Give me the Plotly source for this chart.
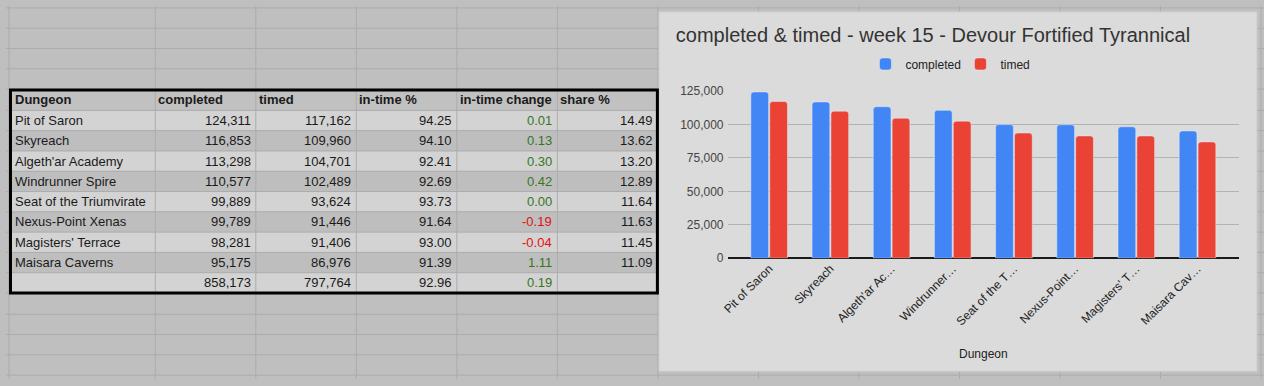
import plotly.graph_objects as go

# ---------------- data ----------------
headers = ["Dungeon", "completed", "timed", "in-time %", "in-time change", "share %"]
dungeons = ["Pit of Saron", "Skyreach", "Algeth'ar Academy", "Windrunner Spire",
            "Seat of the Triumvirate", "Nexus-Point Xenas", "Magisters' Terrace", "Maisara Caverns"]
chart_labels = ["Pit of Saron", "Skyreach", "Algeth'ar Ac…", "Windrunner…",
                "Seat of the T…", "Nexus-Point…", "Magisters' T…", "Maisara Cav…"]
completed = [124311, 116853, 113298, 110577, 99889, 99789, 98281, 95175]
timed = [117162, 109960, 104701, 102489, 93624, 91446, 91406, 86976]
in_time_pct = [94.25, 94.10, 92.41, 92.69, 93.73, 91.64, 93.00, 91.39]
in_time_change = [0.01, 0.13, 0.30, 0.42, 0.00, -0.19, -0.04, 1.11]
share_pct = [14.49, 13.62, 13.20, 12.89, 11.64, 11.63, 11.45, 11.09]
total_completed = 858173
total_timed = 797764
total_in_time_pct = 92.96
total_in_time_change = 0.19
y_ticks = [0, 25000, 50000, 75000, 100000, 125000]
chart_title = "completed & timed - week 15 - Devour Fortified Tyrannical"
x_title = "Dungeon"

# ---------------- layout helpers ----------------
W, H = 1264, 386
FONT = "Liberation Sans, Arial, sans-serif"


def px(x):
    return x / W


def py(y):
    return 1 - y / H


SHEET_BG = "#bfbfbf"
SHEET_GRID = "#acacac"
LIGHT_ROW = "#d3d3d3"
DARK_ROW = "#bebebe"
HEADER_ROW = "#c1c1c1"
TEXT = "#1a1a1a"
GREEN = "#38761d"
RED = "#e31010"
BLUE = "#4285f4"
ORANGE_RED = "#ea4335"
PANEL = "#dbdbdb"

col_lines = [3, 150, 251, 352, 453, 554, 655, 756, 857, 958, 1059, 1160, 1261]
row_lines = [2, 23, 44, 65, 86, 108, 129, 150, 171, 192, 213, 234, 255, 276, 297,
             319, 340, 361, 382]
TABLE_TOP_ROW = 4          # index in row_lines where the table header starts
TABLE_COLS = col_lines[:7]  # column edges of the table

# ---------------- table content ----------------
n = len(dungeons)
col_dungeon = dungeons + [""]
col_completed = [f"{v:,}" for v in completed] + [f"{total_completed:,}"]
col_timed = [f"{v:,}" for v in timed] + [f"{total_timed:,}"]
col_pct = [f"{v:.2f}" for v in in_time_pct] + [f"{total_in_time_pct:.2f}"]
changes = in_time_change + [total_in_time_change]
col_change = [f"{v:.2f}" for v in changes]
col_share = [f"{v:.2f}" for v in share_pct] + [""]
columns = [col_dungeon, col_completed, col_timed, col_pct, col_change, col_share]
change_colors = [GREEN if v >= 0 else RED for v in changes]

shapes = []
annotations = []

# row fills
for r in range(n + 2):
    top = row_lines[TABLE_TOP_ROW + r]
    bot = row_lines[TABLE_TOP_ROW + r + 1]
    if r == 0:
        fill = HEADER_ROW
    else:
        fill = LIGHT_ROW if (r - 1) % 2 == 0 else DARK_ROW
    shapes.append(dict(type="rect", xref="paper", yref="paper", x0=px(TABLE_COLS[0]),
                       x1=px(TABLE_COLS[-1]), y0=py(bot), y1=py(top), fillcolor=fill,
                       line=dict(width=0), layer="below"))

# sheet gridlines
for x in col_lines:
    shapes.append(dict(type="line", xref="paper", yref="paper", x0=px(x), x1=px(x),
                       y0=0, y1=1, line=dict(color=SHEET_GRID, width=1), layer="below"))
for y in row_lines:
    shapes.append(dict(type="line", xref="paper", yref="paper", x0=0, x1=1,
                       y0=py(y), y1=py(y), line=dict(color=SHEET_GRID, width=1), layer="below"))

# chart panel
shapes.append(dict(type="rect", xref="paper", yref="paper", x0=px(656), x1=px(1257),
                   y0=py(378), y1=py(6), fillcolor=PANEL,
                   line=dict(color="#cacaca", width=1), layer="below"))
# thick table border
shapes.append(dict(type="rect", xref="paper", yref="paper", x0=px(4.5), x1=px(654.5),
                   y0=py(297), y1=py(87), line=dict(color="#000000", width=3),
                   fillcolor="rgba(0,0,0,0)", layer="above"))

ANN = dict(xref="paper", yref="paper", showarrow=False, borderpad=0, borderwidth=0,
           yanchor="middle")

# header text
for c, h in enumerate(headers):
    x = TABLE_COLS[c] + (6 if c == 0 else 3)
    yc = (row_lines[TABLE_TOP_ROW] + row_lines[TABLE_TOP_ROW + 1]) / 2
    annotations.append(dict(text=f"<b>{h}</b>", x=px(x), y=py(yc), xanchor="left",
                            font=dict(family=FONT, size=13, color=TEXT), **ANN))
# body text
for c, col in enumerate(columns):
    for r, val in enumerate(col):
        if val == "":
            continue
        top = row_lines[TABLE_TOP_ROW + r + 1]
        bot = row_lines[TABLE_TOP_ROW + r + 2]
        yc = (top + bot) / 2
        if c == 0:
            x, anchor = TABLE_COLS[0] + 6, "left"
        else:
            x, anchor = TABLE_COLS[c + 1] - 5, "right"
        color = change_colors[r] if c == 4 else TEXT
        annotations.append(dict(text=val, x=px(x), y=py(yc), xanchor=anchor,
                                font=dict(family=FONT, size=13, color=color), **ANN))

# ---------------- chart ----------------
bar_completed = go.Bar(x=chart_labels, y=completed, name="completed",
                       marker=dict(color=BLUE, cornerradius=3))
bar_timed = go.Bar(x=chart_labels, y=timed, name="timed",
                   marker=dict(color=ORANGE_RED, cornerradius=3))

fig = go.Figure([bar_completed, bar_timed])
fig.update_layout(
    width=W, height=H,
    margin=dict(l=0, r=0, t=0, b=0),
    paper_bgcolor=SHEET_BG,
    plot_bgcolor="rgba(0,0,0,0)",
    font=dict(family=FONT, size=12, color="#222222"),
    shapes=shapes,
    annotations=annotations,
    barmode="group", bargap=0.383, bargroupgap=0.06,
    title=dict(text=chart_title, xref="paper", yref="paper", x=px(673), xanchor="left",
               y=py(30), yanchor="middle", font=dict(family=FONT, size=20, color="#333333")),
    legend=dict(orientation="h", x=px(959), xanchor="center", y=py(60), yanchor="middle",
                font=dict(family=FONT, size=12, color="#222222"),
                itemwidth=30, entrywidth=50,
                bgcolor="rgba(0,0,0,0)"),
    xaxis=dict(domain=[px(725), px(1239)], range=[-0.68, 7.68], tickangle=-45,
               showgrid=False, showline=False, ticks="",
               tickfont=dict(family=FONT, size=12, color="#222222"),
               title=dict(text=x_title, font=dict(family=FONT, size=12, color="#222222"),
                          standoff=22)),
    yaxis=dict(domain=[py(261), py(87)], range=[0, 125000 * 174 / 173], tickvals=y_ticks,
               tickformat=",", gridcolor="#b2b2b2", gridwidth=1,
               zeroline=True, zerolinecolor="#1a1a1a", zerolinewidth=2,
               showline=False, ticks="", ticklabelstandoff=3,
               tickfont=dict(family=FONT, size=12, color="#444444")),
)

fig.write_html("out.html")
